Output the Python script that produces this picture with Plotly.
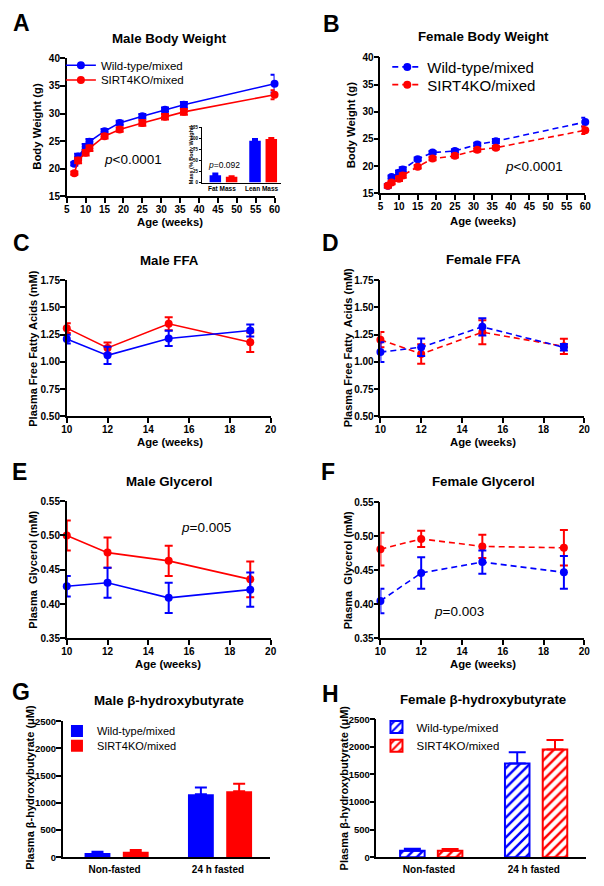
import plotly.graph_objects as go

W, H = 604, 886
FONT = "Liberation Sans, Arial, sans-serif"
BLUE = "#0000FF"
RED = "#FF0000"

# ---------------- data ----------------
bw_age = [7, 8, 10, 11, 15, 19, 25, 31, 36, 60]
male_bw_wt = [20.9, 22.2, 24.0, 24.9, 26.8, 28.3, 29.5, 30.7, 31.6, 35.4]
male_bw_wt_err = [0.3, 0.5, 0.5, 0.5, 0.4, 0.4, 0.4, 0.4, 0.5, 1.6]
male_bw_ko = [19.2, 21.5, 22.9, 23.7, 25.9, 27.1, 28.3, 29.4, 30.3, 33.4]
male_bw_ko_err = [0.3, 0.5, 0.5, 0.5, 0.4, 0.4, 0.5, 0.5, 0.5, 0.8]

female_bw_wt = [16.4, 18.0, 18.8, 19.4, 21.3, 22.5, 22.8, 24.0, 24.6, 28.1]
female_bw_wt_err = [0.3, 0.3, 0.4, 0.4, 0.3, 0.3, 0.3, 0.3, 0.4, 0.8]
female_bw_ko = [16.4, 17.0, 17.7, 18.3, 19.9, 21.4, 21.9, 23.0, 23.4, 26.6]
female_bw_ko_err = [0.3, 0.3, 0.4, 0.4, 0.3, 0.3, 0.3, 0.3, 0.3, 0.7]

inset_cats = ["Fat Mass", "Lean Mass"]
inset_wt = [16.7, 94.7]
inset_wt_err = [3.8, 3.8]
inset_ko = [12.9, 98.5]
inset_ko_err = [1.5, 2.3]

plasma_age = [10, 12, 15, 19]
male_ffa_wt = [1.21, 1.06, 1.215, 1.288]
male_ffa_wt_err = [0.04, 0.08, 0.07, 0.055]
male_ffa_ko = [1.31, 1.128, 1.35, 1.18]
male_ffa_ko_err = [0.045, 0.05, 0.06, 0.09]

female_ffa_wt = [1.09, 1.135, 1.322, 1.134]
female_ffa_wt_err = [0.09, 0.08, 0.08, 0.03]
female_ffa_ko = [1.204, 1.073, 1.273, 1.143]
female_ffa_ko_err = [0.07, 0.09, 0.11, 0.07]

male_gly_wt = [0.426, 0.431, 0.409, 0.421]
male_gly_wt_err = [0.015, 0.022, 0.022, 0.025]
male_gly_ko = [0.5, 0.475, 0.463, 0.436]
male_gly_ko_err = [0.022, 0.022, 0.022, 0.026]

female_gly_wt = [0.405, 0.446, 0.462, 0.447]
female_gly_wt_err = [0.018, 0.023, 0.017, 0.024]
female_gly_ko = [0.481, 0.496, 0.485, 0.483]
female_gly_ko_err = [0.024, 0.012, 0.017, 0.026]

bhb_cats = ["Non-fasted", "24 h fasted"]
male_bhb_wt = [79, 1156]
male_bhb_wt_err = [24, 127]
male_bhb_ko = [103, 1211]
male_bhb_ko_err = [30, 139]
female_bhb_wt = [120, 1699]
female_bhb_wt_err = [35, 203]
female_bhb_ko = [120, 1950]
female_bhb_ko_err = [30, 173]

bw_ticks = [5, 10, 15, 20, 25, 30, 35, 40, 45, 50, 55, 60]

# ---------------- helpers ----------------
def xd(a, b):
    return [a / W, b / W]

def yd(top, bottom):
    return [1 - bottom / H, 1 - top / H]

fig = go.Figure()

def line_trace(x, y, err, color, axis, name=None, dash="solid", legend=None, show=False):
    fig.add_trace(go.Scatter(
        x=x, y=y, mode="lines+markers", name=name,
        line=dict(color=color, width=1.6, dash=dash),
        marker=dict(color=color, size=8, symbol="circle"),
        error_y=dict(type="data", array=err, visible=True, color=color, thickness=2, width=4),
        xaxis="x" + axis, yaxis="y" + axis, cliponaxis=False,
        showlegend=show, legend=legend,
    ))

def bar_trace(x, y, err, color, axis, width, offset, cap, name=None, hatch=False, legend=None,
              show=False):
    if hatch:
        marker = dict(color="white", line=dict(color=color, width=2),
                      pattern=dict(shape="/", fgcolor=color, bgcolor="white",
                                   size=7, solidity=0.35, fillmode="replace"))
    else:
        marker = dict(color=color, line=dict(color=color, width=0))
    fig.add_trace(go.Bar(
        x=x, y=y, name=name, marker=marker, width=width, offset=offset,
        error_y=dict(type="data", array=err, arrayminus=[0] * len(err), symmetric=False,
                     visible=True, color=color, thickness=2, width=cap),
        xaxis="x" + axis, yaxis="y" + axis, cliponaxis=False,
        showlegend=show, legend=legend,
    ))

# A
line_trace(bw_age, male_bw_wt, male_bw_wt_err, BLUE, "", "Wild-type/mixed", legend="legend", show=True)
line_trace(bw_age, male_bw_ko, male_bw_ko_err, RED, "", "SIRT4KO/mixed", legend="legend5", show=True)
# B
line_trace(bw_age, female_bw_wt, female_bw_wt_err, BLUE, "2", "Wild-type/mixed", dash="6px,4px", legend="legend2", show=True)
line_trace(bw_age, female_bw_ko, female_bw_ko_err, RED, "2", "SIRT4KO/mixed", dash="6px,4px", legend="legend6", show=True)
# C
line_trace(plasma_age, male_ffa_ko, male_ffa_ko_err, RED, "3")
line_trace(plasma_age, male_ffa_wt, male_ffa_wt_err, BLUE, "3")
# D
line_trace(plasma_age, female_ffa_ko, female_ffa_ko_err, RED, "4", dash="6px,4px")
line_trace(plasma_age, female_ffa_wt, female_ffa_wt_err, BLUE, "4", dash="6px,4px")
# E
line_trace(plasma_age, male_gly_ko, male_gly_ko_err, RED, "5")
line_trace(plasma_age, male_gly_wt, male_gly_wt_err, BLUE, "5")
# F
line_trace(plasma_age, female_gly_ko, female_gly_ko_err, RED, "6", dash="6px,4px")
line_trace(plasma_age, female_gly_wt, female_gly_wt_err, BLUE, "6", dash="6px,4px")
# G
bar_trace(bhb_cats, male_bhb_wt, male_bhb_wt_err, BLUE, "7", 0.25, -0.29, 6, "Wild-type/mixed", legend="legend3", show=True)
bar_trace(bhb_cats, male_bhb_ko, male_bhb_ko_err, RED, "7", 0.25, 0.08, 6, "SIRT4KO/mixed", legend="legend7", show=True)
# H
bar_trace(bhb_cats, female_bhb_wt, female_bhb_wt_err, BLUE, "8", 0.234, -0.275, 8.5, "Wild-type/mixed", hatch=True, legend="legend4", show=True)
bar_trace(bhb_cats, female_bhb_ko, female_bhb_ko_err, RED, "8", 0.234, 0.085, 8.5, "SIRT4KO/mixed", hatch=True, legend="legend8", show=True)
# inset
bar_trace(inset_cats, inset_wt, inset_wt_err, BLUE, "9", 0.29, -0.31, 3)
bar_trace(inset_cats, inset_ko, inset_ko_err, RED, "9", 0.29, 0.10, 3)

tickfont = dict(family=FONT, size=10, color="black", weight="bold")
axcommon = dict(showline=True, linecolor="black", linewidth=1.6, ticks="outside", ticklen=5,
                tickwidth=1.5, tickcolor="black", showgrid=False, zeroline=False,
                tickfont=tickfont, mirror=False, fixedrange=True, ticklabelstandoff=-2)

layout_axes = {}
def set_axes(n, xdom, ydom, xopts, yopts):
    sx = "" if n == 1 else str(n)
    xa = dict(axcommon); xa.update(domain=xdom, anchor="y" + sx); xa.update(xopts)
    ya = dict(axcommon); ya.update(domain=ydom, anchor="x" + sx); ya.update(yopts)
    layout_axes["xaxis" + sx] = xa
    layout_axes["yaxis" + sx] = ya

bw_x = dict(range=[5, 60], tickvals=bw_ticks)
set_axes(1, xd(62, 274), yd(53, 193), bw_x, dict(range=[15, 40], dtick=5, tick0=15))
set_axes(2, xd(382, 591), yd(52, 190), bw_x, dict(range=[15, 40], dtick=5, tick0=15))
pl_x = dict(range=[10, 20], dtick=2, tick0=10)
ffa_y = dict(range=[0.5, 1.75], dtick=0.25, tick0=0.5, tickformat=".2f")
gly_y = dict(range=[0.35, 0.55], dtick=0.05, tick0=0.35, tickformat=".2f")
set_axes(3, xd(62, 270), yd(278, 416), pl_x, ffa_y)
set_axes(4, xd(382, 590), yd(278, 416), pl_x, ffa_y)
set_axes(5, xd(62, 270), yd(502, 641), pl_x, gly_y)
set_axes(6, xd(382, 590), yd(503, 641), pl_x, gly_y)
cat_x = dict(type="category", range=[-0.5, 1.5], ticks="", ticklabelstandoff=2,
             tickfont=dict(family=FONT, size=10, color="black", weight="bold"))
bhb_y = dict(range=[0, 2500], dtick=500, tick0=0, tickformat="d",
             tickfont=dict(family=FONT, size=9.5, color="black", weight="bold"))
set_axes(7, xd(58, 269), yd(725, 863), cat_x, bhb_y)
set_axes(8, xd(378, 592), yd(723, 863), cat_x, bhb_y)
set_axes(9, xd(200, 281), yd(123, 179),
         dict(type="category", range=[-0.5, 1.5], ticks="", linewidth=1, ticklabelstandoff=0,
              tickfont=dict(family=FONT, size=6.5, color="black", weight="bold")),
         dict(range=[0, 125], dtick=25, tick0=0, ticklen=2, tickwidth=1, linewidth=1,
              ticklabelstandoff=0,
              tickfont=dict(family=FONT, size=4.5, color="black", weight="bold")))

annotations = []
def ann(text, px, py, size, bold=True, angle=0):
    annotations.append(dict(
        text=text, x=px / W, y=1 - py / H, xref="paper", yref="paper",
        xanchor="center", yanchor="middle", showarrow=False, textangle=angle,
        font=dict(family=FONT, size=size, color="black", weight="bold" if bold else "normal"),
    ))

# panel letters
for letter, px, py in [("A", 16, 17), ("B", 332, 18), ("C", 16, 240), ("D", 331, 240),
                       ("E", 14, 472), ("F", 329, 472), ("G", 15, 695), ("H", 331, 697)]:
    ann(letter, px, py, 23)

# titles
for t, px, py in [("Male Body Weight", 167, 33), ("Female Body Weight", 487, 31),
                  ("Male FFA", 167, 258), ("Female FFA", 487, 257),
                  ("Male Glycerol", 166, 482), ("Female Glycerol", 487, 482),
                  ("Male β-hydroxybutyrate", 166, 704), ("Female β-hydroxybutyrate", 487, 703)]:
    ann(t, px, py, 13.3)

# x axis titles
for px, py in [(167, 219), (487, 218), (167, 442), (487, 442), (165, 667), (487, 667)]:
    ann("Age (weeks)", px, py, 11.3)

# y axis titles
ann("Body Weight (g)", 32, 122, 11.3, angle=-90)
ann("Body Weight (g)", 352, 121, 11.3, angle=-90)
ann("Plasma Free Fatty Acids (mM)", 28, 347, 11, angle=-90)
ann("Plasma Free Fatty  Acids (mM)", 349, 347, 11, angle=-90)
ann("Plasma  Glycerol (mM)", 28, 571, 11, angle=-90)
ann("Plasma  Glycerol (mM)", 349, 572, 11, angle=-90)
ann("Plasma β-hydroxybutyrate (μM)", 25, 792, 11, angle=-90)
ann("Plasma β-hydroxybutyrate (μM)", 345, 793, 11, angle=-90)
ann("Mass (% Body Weight)", 189, 151, 5.5, angle=-90)

# p values
ann("<i>p</i>&lt;0.0001", 130, 156, 13.5, bold=False)
ann("<i>p</i>&lt;0.0001", 539, 163, 13.5, bold=False)
ann("<i>p</i>=0.005", 204, 529, 13.5, bold=False)
ann("<i>p</i>=0.003", 462, 614, 13.5, bold=False)
ann("<i>p</i>=0.092", 222, 161, 8.5, bold=False)

def legend_at(px, py, size):
    return dict(x=px / W, y=1 - py / H, xanchor="left", yanchor="middle",
                bgcolor="rgba(0,0,0,0)", borderwidth=0,
                font=dict(family=FONT, size=size, color="black"))

fig.update_layout(
    width=W, height=H, margin=dict(l=0, r=0, t=0, b=0),
    paper_bgcolor="white", plot_bgcolor="white",
    barmode="overlay", showlegend=True,
    legend=legend_at(56, 60, 11.5),
    legend5=legend_at(56, 75, 11.5),
    legend2=legend_at(389, 62, 15),
    legend6=legend_at(389, 80, 15),
    legend3=legend_at(52, 735, 11),
    legend7=legend_at(52, 750, 11),
    legend4=legend_at(378, 731, 11.5),
    legend8=legend_at(378, 750, 11.5),
    annotations=annotations,
    **layout_axes,
)

fig.write_html("out.html", config={"displayModeBar": False},
               post_script="document.body.style.margin='0px';")
